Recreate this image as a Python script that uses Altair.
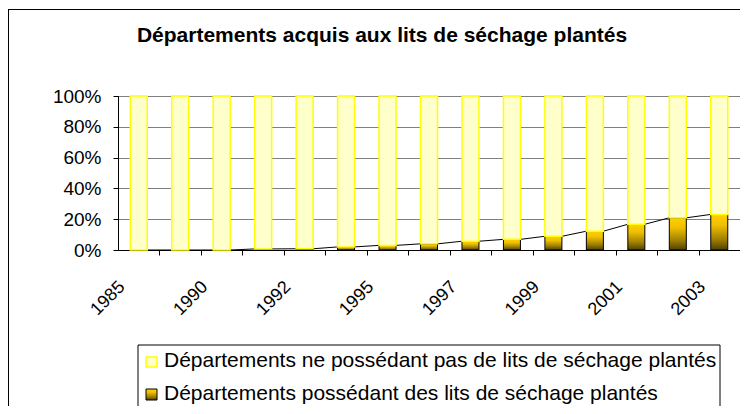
import json
import altair as alt
import pandas as pd

# ---- data ----
years = ['1985', '1988', '1990', '1991', '1992', '1994', '1995', '1996',
         '1997', '1998', '1999', '2000', '2001', '2002', '2003']
shown_years = ['1985', '1990', '1992', '1995', '1997', '1999', '2001', '2003']
with_beds = [0, 0, 0, 0.7, 0.8, 2.0, 3.0, 4.0, 5.7, 6.9, 8.9, 12.2, 16.7, 20.9, 23.1]
without_beds = [100, 100, 100, 99.3, 99.2, 98.0, 97.0, 96.0, 94.3, 93.1, 91.1, 87.8, 83.3, 79.1, 76.9]
series_names = ['Départements ne possédant pas de lits de séchage plantés',
                'Départements possédant des lits de séchage plantés']
title_text = 'Départements acquis aux lits de séchage plantés'
y_ticks = [0, 0.2, 0.4, 0.6, 0.8, 1.0]

FONT = 'Liberation Sans'
W, H = 622, 154

df = pd.DataFrame({
    'year': years,
    'with': [v / 100 for v in with_beds],
    'without': [v / 100 for v in without_beds],
})
df['top'] = df['with'] + df['without']

lines = pd.DataFrame({
    'year': years[:-1],
    'next': years[1:],
    'v': df['with'][:-1].tolist(),
    'v2': df['with'][1:].tolist(),
})

step = W / len(years)
x_scale = alt.Scale(domain=years, paddingInner=0.59, paddingOuter=0.295)
label_expr = "indexof(" + json.dumps(shown_years) + ", datum.label) >= 0 ? datum.label : ''"
x_axis = alt.Axis(title='', grid=False, tickOffset=step / 2, labelOffset=-step / 2 - 17,
                  labelAngle=315, labelAlign='right', labelBaseline='middle',
                  labelPadding=29, labelFontSize=18, labelFont=FONT, labelColor='black',
                  labelExpr=label_expr, labelOverlap=False, tickSize=5,
                  tickColor='black', domainColor='black')
y_scale = alt.Scale(domain=[0, 1], nice=False)
y_axis = alt.Axis(title='', values=y_ticks, format='.0%', labelFontSize=19, labelFont=FONT,
                  labelColor='black', labelPadding=12, tickSize=5, tickColor='black',
                  domainColor='black', grid=True, gridColor='#808080')

X = alt.X('year:N', scale=x_scale, axis=x_axis)

gold = alt.Gradient(
    gradient='linear',
    stops=[alt.GradientStop(color='#FFD000', offset=0),
           alt.GradientStop(color='#F0C000', offset=0.3),
           alt.GradientStop(color='#A08000', offset=0.7),
           alt.GradientStop(color='#4F3F00', offset=1)],
    x1=0, x2=0, y1=0, y2=1)

half = 17.0 / 2
series_line = alt.Chart(lines).mark_rule(color='black', strokeWidth=1, xOffset=half,
                                         x2Offset=-half).encode(
    x=X, x2='next:N', y=alt.Y('v:Q', scale=y_scale, axis=y_axis), y2='v2:Q')

dark = alt.Chart(df).mark_bar(fill=gold, stroke='black', strokeWidth=1).encode(
    x=X, y=alt.Y('with:Q', scale=y_scale, axis=y_axis), y2=alt.datum(0))

light = alt.Chart(df).mark_bar(fill='#FFFFCC', stroke='#FFFF00', strokeWidth=1.5).encode(
    x=X, y=alt.Y('with:Q', scale=y_scale, axis=y_axis), y2='top:Q')

one = pd.DataFrame({'k': [0]})
legend_box = alt.Chart(one).mark_rect(fill='white', stroke='black', strokeWidth=1).encode(
    x=alt.value(20), x2=alt.value(602), y=alt.value(249), y2=alt.value(330))
sym1 = alt.Chart(one).mark_rect(fill='#FFFFCC', stroke='#FFFF00', strokeWidth=1.5).encode(
    x=alt.value(28), x2=alt.value(39), y=alt.value(261), y2=alt.value(271))
sym2 = alt.Chart(one).mark_rect(fill=gold, stroke='black', strokeWidth=1).encode(
    x=alt.value(28), x2=alt.value(39), y=alt.value(293), y2=alt.value(304))
txt1 = alt.Chart(one).mark_text(text=series_names[0], align='left', baseline='middle',
                                font=FONT, fontSize=21, color='black').encode(
    x=alt.value(46), y=alt.value(265))
txt2 = alt.Chart(one).mark_text(text=series_names[1], align='left', baseline='middle',
                                font=FONT, fontSize=21, color='black').encode(
    x=alt.value(46), y=alt.value(298))
title = alt.Chart(one).mark_text(text=title_text, align='center', baseline='alphabetic',
                                 font=FONT, fontSize=21, fontWeight='bold', color='black').encode(
    x=alt.value(264), y=alt.value(-54))
frame_top = alt.Chart(one).mark_rule(color='black', strokeWidth=1).encode(
    x=alt.value(-110), x2=alt.value(W), y=alt.value(-86.5))
frame_left = alt.Chart(one).mark_rule(color='black', strokeWidth=1).encode(
    x=alt.value(-109.5), y=alt.value(-87), y2=alt.value(320))

chart = alt.layer(series_line, dark, light, legend_box, sym1, sym2, txt1, txt2, title,
                  frame_top, frame_left).properties(
    width=W, height=H,
    autosize=alt.AutoSizeParams(type='none'),
    padding={'left': 110, 'top': 88, 'right': 0, 'bottom': 156},
    background='white',
).configure_view(stroke='black', strokeWidth=1)

chart.save('out.html', embed_options={'renderer': 'svg', 'actions': False})
